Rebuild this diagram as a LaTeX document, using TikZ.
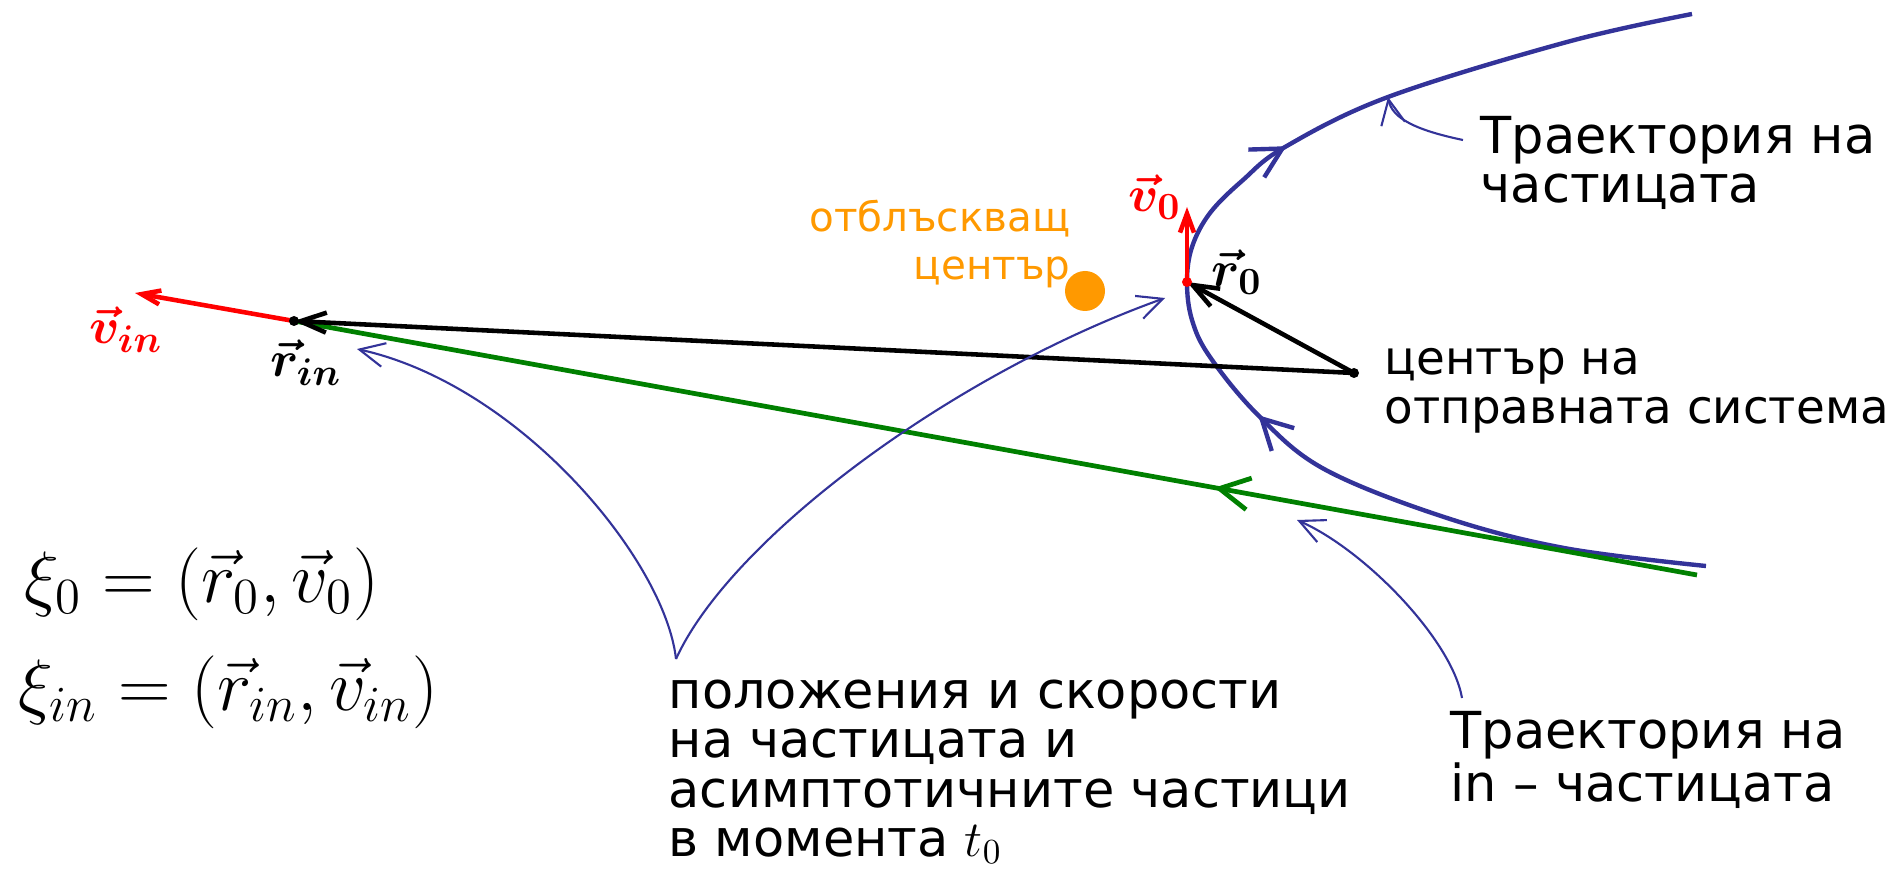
\documentclass[tikz,border=0pt]{standalone}
\usepackage{fontspec}
\setmainfont{DejaVu Sans}
\usetikzlibrary{arrows.meta,decorations.markings}
\definecolor{trajblue}{RGB}{51,51,153}
\definecolor{ingreen}{RGB}{0,128,0}
\definecolor{scatorange}{RGB}{255,153,0}

\begin{document}
\begin{tikzpicture}[
  x=0.01cm, y=-0.01cm,
  hand/.style={anchor=west, align=left, inner sep=0pt,
               font=\fontsize{14.5}{14}\selectfont},
  veclbl/.style={inner sep=0pt, font=\fontsize{15}{15}\selectfont\boldmath},
  formula/.style={anchor=west, inner sep=0pt, font=\fontsize{20}{20}\selectfont},
  traj/.style={draw=trajblue, line width=1.25pt},
  intraj/.style={draw=ingreen, line width=1.35pt},
  pointer/.style={draw=trajblue, line width=0.6pt,
                  -{Straight Barb[length=2.5mm,width=2.4mm]}},
  vecline/.style={line width=1.3pt, -{Straight Barb[length=2.6mm,width=2mm]}},
  redvec/.style={red, line width=1.3pt, -{Straight Barb[length=1.9mm,width=1.4mm]}},
  flow/.style={postaction={decorate, decoration={markings,
               mark=at position #1 with {\arrow{Straight Barb[length=3mm,width=3.2mm]}}}}}
]
\useasboundingbox (0,0) rectangle (1887,879);
% points
\coordinate (O)     at (1354,373);
\coordinate (rin)   at (294,321);
\coordinate (vin)   at (135,293);
\coordinate (r0)    at (1187,282);
\coordinate (v0)    at (1187,207);
\coordinate (inend) at (1697,575);
% trajectories
\draw[traj, flow=0.388, flow=0.655] plot[smooth, tension=0.6] coordinates {
  (1706,566) (1564,548) (1444,517) (1324,469) (1258,415) (1210,357)
  (1192,320) (1187,282) (1192,247) (1210,213) (1243,180) (1285,147)
  (1388,97) (1567,42) (1692,14)};
\draw[intraj, flow=0.344] (inend) -- (rin);
% position and velocity vectors
\draw[vecline] (O) -- (rin);
\draw[vecline] (O) -- (r0);
\draw[redvec] (rin) -- (vin);
\draw[redvec] (r0) -- (v0);
\fill (O) circle (5);
\fill (rin) circle (5);
\fill[red] (r0) circle (5);
% scattering centre
\fill[scatorange] (1085,291) circle (20);
\node[align=right, anchor=east, inner sep=0pt, text=scatorange,
      font=\fontsize{11.5}{13.7}\selectfont] (scatlbl) at (1071,244) {отблъскващ\\център};
% vector labels
\node[veclbl, red] (vinlbl) at (126,330)  {$\vec v_{in}$};
\node[veclbl]      (rinlbl) at (306,363)  {$\vec r_{in}$};
\node[veclbl, red] (v0lbl)  at (1155,197) {$\vec v_0$};
\node[veclbl]      (r0lbl)  at (1237,272) {$\vec r_0$};
% captions
\node[hand] (trajlbl)  at (1480,163) {Траектория на\\частицата};
\node[hand, font=\fontsize{13.3}{14}\selectfont]
            (origlbl)  at (1384,391) {център на\\отправната система};
\node[hand] (inlbl)    at (1450,760) {Траектория на\\in – частицата};
\node[hand] (statelbl) at (668,772)  {положения и скорости\\на частицата и\\асимптотичните частици\\в момента $t_0$};
\node[formula] (xi0)  at (24,584) {$\xi_0 = (\vec r_0, \vec v_0)$};
\node[formula] (xiin) at (18,692) {$\xi_{in} = (\vec r_{in}, \vec v_{in})$};
% pointers
\coordinate (trjstart)   at (1463,140);
\coordinate (trjtip)     at (1388,97);
\coordinate (instart)    at (1462,698);
\coordinate (intip)      at (1297,520);
\coordinate (statestart) at (676,659);
\coordinate (rintip)     at (357,349);
\coordinate (r0tip)      at (1165,298);
\draw[pointer] (trjstart) .. controls (1415,130) and (1392,118) .. (trjtip);
\draw[pointer] (instart) .. controls (1452,640) and (1365,550) .. (intip);
\draw[pointer] (statestart) .. controls (665,560) and (520,385) .. (rintip);
\draw[pointer] (statestart) .. controls (730,540) and (950,375) .. (r0tip);
\end{tikzpicture}
\end{document}
